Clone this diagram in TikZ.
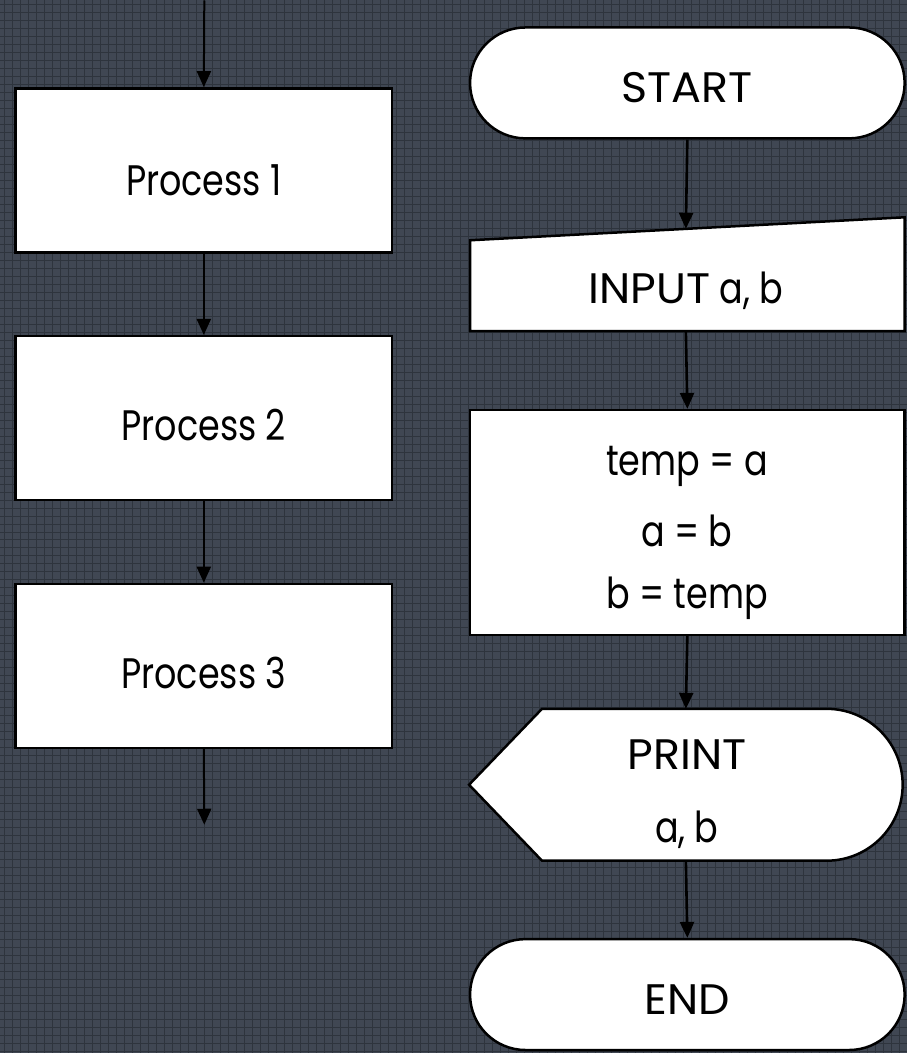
\documentclass[tikz,border=0pt]{standalone}
\usepackage{fontspec}
\setmainfont{Poppins}
\usetikzlibrary{arrows.meta,shapes.misc,positioning}

\definecolor{slate}{HTML}{404753}
\definecolor{slateline}{HTML}{2E343D}

% tall lettering, wider for capitals
\newcommand{\tall}[1]{\scalebox{1}[1.22]{#1}}
\newcommand{\wide}[1]{\scalebox{1.27}[1.22]{#1}}

\tikzset{
	flow/.style={line width=2pt, -{Triangle[width=14pt,length=16pt]}},
	thickflow/.style={flow, line width=2.6pt},
	outline/.style={draw=black, line width=2.5pt, fill=white},
	procbox/.style={outline, rectangle, minimum width=377pt, minimum height=164pt, inner sep=0pt},
	wideproc/.style={outline, rectangle, minimum width=435pt, minimum height=225pt, inner sep=0pt},
	terminal/.style={outline, rounded rectangle, minimum width=435pt, minimum height=111pt, inner sep=0pt},
	txt/.style={font=\fontsize{35}{40}\selectfont, inner sep=0pt}
}

\begin{document}
\begin{tikzpicture}[x=1pt, y=-1pt]
	% background paper with grid
	\fill[slate] (0,0) rectangle (907,1053);
	\foreach \g in {4,12,...,907}
		\draw[slateline, line width=1pt] (\g,0) -- (\g,1053);
	\foreach \g in {4,12,...,1053}
		\draw[slateline, line width=1pt] (0,\g) -- (907,\g);
	\useasboundingbox (0,0) rectangle (907,1053);

	%% left column
	\coordinate (top) at (204,0);
	\node[procbox] (p1) at (203.5,170) {};
	\node[procbox] (p2) at (203.5,418) {};
	\node[procbox] (p3) at (203.5,666) {};
	\coordinate (bottom) at (204,825);
	\node[txt] at ([yshift=-10]p1.center) {\tall{Process 1}};
	\node[txt] at ([yshift=-7]p2.center) {\tall{Process 2}};
	\node[txt] at ([yshift=-7]p3.center) {\tall{Process 3}};

	\draw[flow] (top) -- (p1.north);
	\draw[flow] (p1.south) -- (p2.north);
	\draw[flow] (p2.south) -- (p3.north);
	\draw[flow] (p3.south) -- (bottom);

	%% right column
	\node[terminal] (start) at (687.5,82.5) {};
	\node[txt] at ([yshift=-5]start.center) {\wide{START}};

	% input (slanted top)
	\coordinate (inBL) at (470,331);
	\coordinate (inBR) at (905,331);
	\coordinate (inTR) at (905,217);
	\coordinate (inTL) at (470,240);
	\draw[outline] (inBL) -- (inTL) -- (inTR) -- (inBR) -- cycle;
	\coordinate (inTop) at (686,228.5);
	\coordinate (inBot) at (686,331);
	\node[txt] (input) at (686,291) {\wide{INPUT} \tall{a, b}};

	\node[wideproc] (swap) at (687.5,522.5) {};
	\foreach \t/\y in {temp = a/466, a = b/531, b = temp/598}
		\node[txt] at (687,\y) {\tall{\t}};

	% display shape
	\coordinate (prL) at (469,785);
	\coordinate (prTL) at (542,709);
	\coordinate (prBL) at (542,861);
	\draw[outline] (prL) -- (prTL) -- (827,709) arc[start angle=-90, end angle=90, radius=76] -- (prBL) -- cycle;
	\coordinate (prTop) at (686,709);
	\coordinate (prBot) at (686,861);
	\node[txt] (print) at (687,755) {\wide{PRINT}};
	\node[txt] at (687,830) {\tall{a, b}};

	\node[terminal] (end) at (687.5,995) {};
	\node[txt] at ([yshift=-5]end.center) {\wide{END}};

	\draw[thickflow] (start.south) -- (inTop);
	\draw[thickflow] (inBot) -- (swap.north);
	\draw[thickflow] (swap.south) -- (prTop);
	\draw[thickflow] (prBot) -- (end.north);
\end{tikzpicture}
\end{document}
